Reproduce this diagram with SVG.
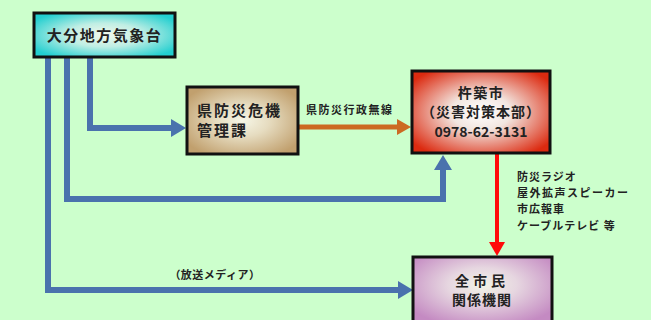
<svg xmlns="http://www.w3.org/2000/svg" width="651" height="320" viewBox="0 0 651 320">
<defs>
<style>
text{font-family:"Noto Sans CJK JP","Noto Sans",sans-serif;font-weight:bold;fill:#222}
.box{stroke:#111;stroke-width:3}
.big{font-size:15px}
.mid{font-size:14px}
.sm{font-size:11px}
.blue{fill:none;stroke:#4a72ad;stroke-width:6}
</style>
<radialGradient id="gCyan" cx="50%" cy="50%" r="60%">
<stop offset="0" stop-color="#f4f8ec"/><stop offset="0.45" stop-color="#bfeee4"/><stop offset="1" stop-color="#22cfd0"/>
</radialGradient>
<radialGradient id="gTan" cx="50%" cy="50%" r="60%">
<stop offset="0" stop-color="#f6f6e6"/><stop offset="0.4" stop-color="#e6dcc0"/><stop offset="1" stop-color="#c1a06e"/>
</radialGradient>
<radialGradient id="gRed" cx="50%" cy="50%" r="62%">
<stop offset="0" stop-color="#ffffff"/><stop offset="0.35" stop-color="#f2e6e0"/><stop offset="1" stop-color="#dc2a10"/>
</radialGradient>
<radialGradient id="gPur" cx="50%" cy="40%" r="62%">
<stop offset="0" stop-color="#f1f4e6"/><stop offset="0.4" stop-color="#e6d6e0"/><stop offset="1" stop-color="#c48ac2"/>
</radialGradient>
<marker id="aBlue" markerUnits="userSpaceOnUse" markerWidth="16" markerHeight="18" refX="0" refY="9" orient="auto"><path d="M0,0 L15,9 L0,18 z" fill="#4a72ad"/></marker>
<marker id="aOrange" markerUnits="userSpaceOnUse" markerWidth="16" markerHeight="16" refX="0" refY="8" orient="auto"><path d="M0,0 L14,8 L0,16 z" fill="#cc6a22"/></marker>
<marker id="aRed" markerUnits="userSpaceOnUse" markerWidth="16" markerHeight="16" refX="0" refY="8" orient="auto"><path d="M0,0 L14,8 L0,16 z" fill="#ff0a0a"/></marker>
</defs>
<rect width="651" height="320" fill="#ccffcc"/>
<g id="connectors">
<path class="blue" d="M48,57 V290 H398" marker-end="url(#aBlue)"/>
<path class="blue" d="M67,57 V199 H443 V170" marker-end="url(#aBlue)"/>
<path class="blue" d="M90,57 V128 H171" marker-end="url(#aBlue)"/>
<path d="M298,127 H397" fill="none" stroke="#cc6a22" stroke-width="5" marker-end="url(#aOrange)"/>
<path d="M497,153 V242" fill="none" stroke="#ff0a0a" stroke-width="4" marker-end="url(#aRed)"/>
<text class="sm" x="306" y="114" letter-spacing="1.5">県防災行政無線</text>
<text class="sm" x="215" y="279" text-anchor="middle" letter-spacing="0.5">（放送メディア）</text>
<text class="sm" x="517" y="181" letter-spacing="1">防災ラジオ</text>
<text class="sm" x="517" y="197" letter-spacing="1.5">屋外拡声スピーカー</text>
<text class="sm" x="517" y="213" letter-spacing="1">市広報車</text>
<text class="sm" x="517" y="230" letter-spacing="1">ケーブルテレビ 等</text>
</g>
<g id="node-kishodai">
<rect class="box" x="34" y="13" width="141" height="44" fill="url(#gCyan)"/>
<text class="big" x="104.5" y="41" text-anchor="middle" letter-spacing="1.5">大分地方気象台</text>
</g>
<g id="node-ken">
<rect class="box" x="187" y="87" width="111" height="67" fill="url(#gTan)"/>
<text class="big" x="197" y="116" letter-spacing="2">県防災危機</text>
<text class="big" x="197" y="136" letter-spacing="2">管理課</text>
</g>
<g id="node-kitsuki">
<rect class="box" x="412" y="71" width="138" height="82" fill="url(#gRed)"/>
<text class="mid" x="481" y="98" text-anchor="middle" letter-spacing="1.5">杵築市</text>
<text class="mid" x="481" y="117" text-anchor="middle" letter-spacing="1">（災害対策本部）</text>
<text class="mid" x="481" y="137" text-anchor="middle">0978-62-3131</text>
</g>
<g id="node-shimin">
<rect class="box" x="413" y="257" width="139" height="70" fill="url(#gPur)"/>
<text class="mid" x="482" y="286" text-anchor="middle" letter-spacing="4">全市民</text>
<text class="mid" x="482" y="305" text-anchor="middle" letter-spacing="1">関係機関</text>
</g>
</svg>
